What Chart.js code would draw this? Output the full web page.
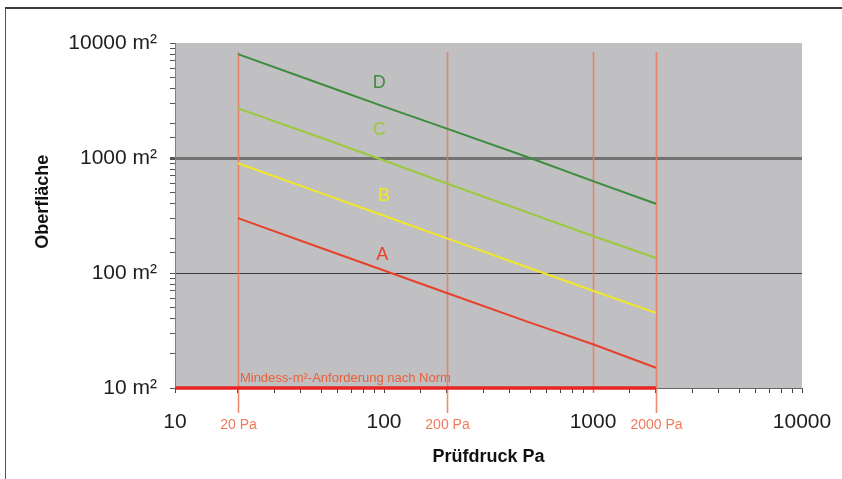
<!DOCTYPE html>
<html>
<head>
<meta charset="utf-8">
<script src="https://cdn.jsdelivr.net/npm/chart.js@4/dist/chart.umd.min.js"></script>
<style>
  html, body { margin: 0; padding: 0; background: #fff; }
  #wrap { position: relative; width: 842px; height: 479px; overflow: hidden; }
  #frame { position: absolute; left: 5px; top: 7px; width: 850px; height: 480px; border-top: 2px solid #3a3a3a; border-left: 1px solid #555; }
  canvas { position: absolute; left: 0; top: 0; }
</style>
</head>
<body>
<div id="wrap">
  <div id="frame"></div>
  <canvas id="c" width="842" height="479"></canvas>
</div>
<script>
// ---- data ----
const pressures = [20, 50, 100, 200, 500, 1000, 2000];      // Prüfdruck Pa
const classA = [300, 165, 105, 67, 37, 24, 15];              // m²
const classB = [900, 495, 315, 200, 110, 70, 45];
const classC = [2700, 1500, 950, 600, 330, 210, 135];
const classD = [8000, 4400, 2800, 1800, 1000, 630, 400];
const classNames = ['A', 'B', 'C', 'D'];
const classLabelX = [98, 100, 95, 95];
const classLabelY = [144, 470, 1750, 4500];
const normValue = 10;                                        // Mindest-m²
const normRange = [10, 2000];
const normText = 'Mindess-m²-Anforderung nach Norm';
const markerPressures = [20, 200, 1000, 2000];
const markerLabels = ['20 Pa', '200 Pa', '', '2000 Pa'];
const xTickValues = [10, 100, 1000, 10000];
const yTickValues = [10, 100, 1000, 10000];
const xTitle = 'Prüfdruck Pa';
const yTitle = 'Oberfläche';

const FONT = '"Liberation Sans", Arial, sans-serif';
const colors = { A: '#e8402c', B: '#f0e62a', C: '#9cc83c', D: '#3d8c3d' };
const series = { A: classA, B: classB, C: classC, D: classD };

const pts = arr => pressures.map((p, i) => ({ x: p, y: arr[i] }));

const bgPlugin = {
  id: 'bg',
  beforeDraw(chart) {
    const { ctx, chartArea: a } = chart;
    ctx.save();
    ctx.fillStyle = '#c0c0c2';
    ctx.fillRect(a.left, a.top, a.right - a.left, a.bottom - a.top);
    ctx.restore();
  },
  afterDraw(chart) {
    const { ctx, chartArea: a } = chart;
    ctx.save();
    ctx.translate(43, a.top + (a.bottom - a.top) * 0.46);
    ctx.rotate(-Math.PI / 2);
    ctx.fillStyle = '#111';
    ctx.font = 'bold 18px ' + FONT;
    ctx.textAlign = 'center';
    ctx.textBaseline = 'middle';
    ctx.fillText(yTitle, 0, 0);
    ctx.restore();
  }
};

const markerPlugin = {
  id: 'markers',
  beforeDatasetsDraw(chart) {
    const { ctx, chartArea: a, scales: { x, y } } = chart;
    ctx.save();
    ctx.strokeStyle = 'rgba(236,120,90,0.85)';
    ctx.lineWidth = 1.6;
    markerPressures.forEach((p, i) => {
      const px = Math.round(x.getPixelForValue(p)) + 0.5;
      const bottom = markerLabels[i] ? a.bottom + 25 : a.bottom + 5;
      ctx.beginPath();
      ctx.moveTo(px, a.top + 9);
      ctx.lineTo(px, bottom);
      ctx.stroke();
      if (markerLabels[i]) {
        ctx.fillStyle = '#f07a5a';
        ctx.font = '14px ' + FONT;
        ctx.textAlign = 'center';
        ctx.textBaseline = 'middle';
        ctx.fillText(markerLabels[i], px, a.bottom + 37);
      }
    });
    ctx.fillStyle = '#e8603c';
    ctx.font = '13px ' + FONT;
    ctx.textAlign = 'left';
    ctx.textBaseline = 'middle';
    ctx.fillText(normText, x.getPixelForValue(markerPressures[0]) + 2, y.getPixelForValue(normValue) - 10);
    ctx.restore();
  },
  afterDatasetsDraw(chart) {
    const { ctx, scales: { x, y } } = chart;
    ctx.save();
    ctx.font = '18px ' + FONT;
    ctx.textAlign = 'center';
    ctx.textBaseline = 'middle';
    classNames.forEach((n, i) => {
      ctx.fillStyle = colors[n];
      ctx.fillText(n, x.getPixelForValue(classLabelX[i]), y.getPixelForValue(classLabelY[i]));
    });
    ctx.restore();
  }
};

const datasets = classNames.map(n => ({
  label: n,
  data: pts(series[n]),
  borderColor: colors[n],
  borderWidth: 2,
  pointRadius: 0,
  showLine: true,
  fill: false
}));
datasets.push({
  label: 'Norm',
  data: normRange.map(v => ({ x: v, y: normValue })),
  borderColor: '#e82424',
  borderWidth: 3.5,
  pointRadius: 0,
  showLine: true,
  clip: false
});

new Chart(document.getElementById('c'), {
  type: 'scatter',
  data: { datasets },
  options: {
    responsive: false,
    animation: false,
    events: [],
    layout: { padding: { top: 43, right: 40, left: 0, bottom: 0 } },
    plugins: { legend: { display: false }, tooltip: { enabled: false } },
    scales: {
      x: {
        type: 'logarithmic',
        position: 'bottom',
        min: 10, max: 10000,
        afterFit: s => { s.height = 91; s.paddingLeft = 0; s.paddingRight = 0; },
        border: { display: true, color: '#666', width: 1 },
        grid: { drawOnChartArea: false, drawTicks: true, tickLength: 5, tickColor: '#444' },
        ticks: {
          autoSkip: false, maxRotation: 0, padding: 17,
          color: '#1e1e1e',
          font: { size: 21, family: FONT },
          callback: v => xTickValues.includes(v) ? String(v) : ''
        },
        title: {
          display: true, text: xTitle, color: '#111',
          font: { size: 18, weight: 'bold', family: FONT },
          padding: { top: 0, bottom: 11 }
        }
      },
      y: {
        type: 'logarithmic',
        position: 'left',
        min: 10, max: 10000,
        afterFit: s => { s.width = 175; s.paddingTop = 0; s.paddingBottom = 0; },
        border: { display: true, color: '#808080', width: 1 },
        grid: {
          drawOnChartArea: true, drawTicks: true, tickLength: 5, tickColor: '#555',
          color: c => c.tick && c.tick.value === 1000 ? '#727272' : (c.tick && c.tick.value === 100 ? '#3a3a3a' : 'rgba(0,0,0,0)'),
          lineWidth: c => c.tick && c.tick.value === 1000 ? 3 : 1
        },
        ticks: {
          autoSkip: false, padding: 13,
          color: '#1e1e1e',
          font: { size: 21, family: FONT },
          callback: v => yTickValues.includes(v) ? v + ' m²' : ''
        },
        title: { display: false }
      }
    }
  },
  plugins: [bgPlugin, markerPlugin]
});
</script>
</body>
</html>
